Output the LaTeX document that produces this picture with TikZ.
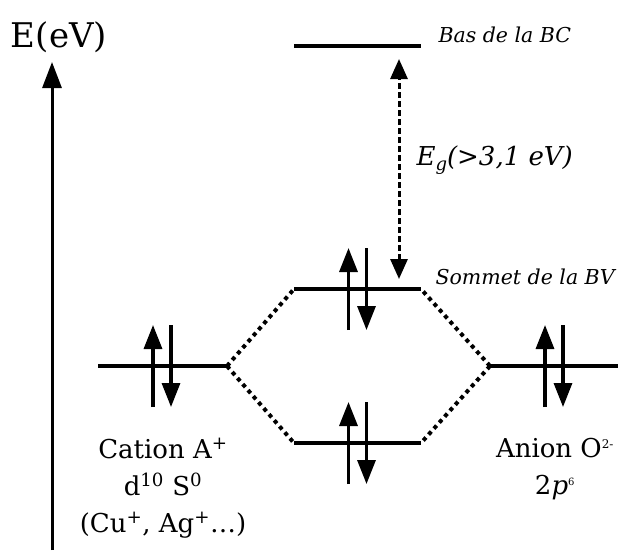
\documentclass[tikz,border=0pt]{standalone}
\usepackage{fontspec}
\setmainfont{DejaVu Serif}
\usetikzlibrary{arrows.meta, positioning, calc}

\begin{document}
\begin{tikzpicture}[x=1pt,y=-1pt,
  level/.style={line width=4pt},
  spin/.style={line width=3.2pt,-{Triangle[length=24pt,width=18pt]}},
  link/.style={line width=4pt,dash pattern=on 4pt off 4pt},
  gap/.style={line width=3pt,dash pattern=on 6pt off 3pt,
              {Triangle[length=20pt,width=17pt]}-{Triangle[length=20pt,width=17pt]}},
  tag/.style={anchor=west,font=\itshape\fontsize{20.5}{22}\selectfont}]
  \useasboundingbox (0,0) rectangle (618,550);

  % energy axis
  \coordinate (ax0) at (52,550);
  \coordinate (ax1) at (52,62);
  \draw[line width=3pt,-{Triangle[length=26pt,width=19pt]}] (ax0) -- (ax1);
  \node[font=\fontsize{34}{36}\selectfont] (E) at (59,37) {E(eV)};

  % levels
  \coordinate (bcL) at (294,46);  \coordinate (bcR) at (421,46);
  \coordinate (bvL) at (294,289); \coordinate (bvR) at (421,289);
  \coordinate (bbL) at (294,443); \coordinate (bbR) at (421,443);
  \coordinate (catL) at (98,366); \coordinate (catR) at (227,366);
  \coordinate (anL) at (490,366); \coordinate (anR) at (618,366);
  \foreach \lv in {bc,bv,bb,cat,an}
    \draw[level] (\lv L) -- (\lv R);

  % mixing
  \draw[link] (catR) -- (bvL);
  \draw[link] (catR) -- (bbL);
  \draw[link] (anL) -- (bvR);
  \draw[link] (anL) -- (bbR);

  % electron pairs
  \coordinate (catc) at (162,366);
  \coordinate (anc) at (554,366);
  \coordinate (bvc) at (357.5,289);
  \coordinate (bbc) at (357.5,443);
  \foreach \lv in {cat,an,bv,bb} {
    \draw[spin] ($(\lv c)+(-9,41)$) -- ++(0,-82);
    \draw[spin] ($(\lv c)+(9,-41)$) -- ++(0,82);
  }

  % gap
  \coordinate (gapT) at (399,59);
  \coordinate (gapB) at (399,279);
  \draw[gap] (gapB) -- (gapT);
  \node[anchor=west,font=\itshape\fontsize{26}{28}\selectfont] (eg) at (413,160)
    {E\raisebox{-.4ex}{\fontsize{18}{19}\selectfont g}(>3,1 eV)};

  % labels
  \node[tag] (bc) at (435,35) {Bas de la BC};
  \node[tag] (bv) at (432,277) {Sommet de la BV};
  \node[align=center,font=\fontsize{26}{37}\selectfont] (cat) at (163,488)
    {Cation A\textsuperscript{+}\\d\textsuperscript{10} S\textsuperscript{0}\\(Cu\textsuperscript{+}, Ag\textsuperscript{+}…)};
  \node[align=center,font=\fontsize{26}{37}\selectfont] (an) at (555,469)
    {Anion O\textsuperscript{\fontsize{12}{12}\selectfont 2-}\\2\textit{p}\textsuperscript{\fontsize{10}{10}\selectfont 6}};
\end{tikzpicture}
\end{document}
